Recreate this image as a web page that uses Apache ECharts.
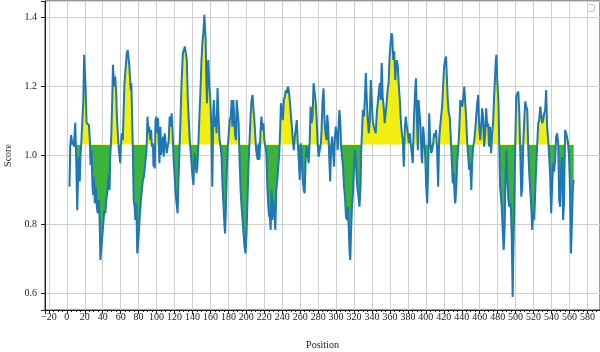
<!DOCTYPE html>
<html>
<head>
<meta charset="utf-8">
<script src="https://cdn.jsdelivr.net/npm/echarts@6/dist/echarts.min.js"></script>
<style>
  html, body { margin: 0; padding: 0; background: #fff; }
  #chart { width: 600px; height: 352px; }
</style>
</head>
<body>
<div id="chart"></div>
<script>
  // residue position along the sequence
  const positions = [
    3.0, 3.8, 4.8, 6.2, 7.0, 7.8, 9.4, 10.6, 11.6, 13.2,
    14.4, 15.2, 16.3, 17.2, 18.4, 19.3, 20.9, 22.0, 23.5, 24.6,
    25.7, 26.4, 27.5, 28.6, 29.4, 30.1, 31.2, 32.3, 33.4, 34.5,
    35.6, 36.3, 37.4, 39.3, 40.4, 41.8, 42.9, 44.0, 45.5, 46.6,
    47.7, 48.4, 49.5, 50.6, 51.4, 52.8, 53.9, 55.0, 55.8, 56.9,
    58.0, 59.5, 60.2, 61.3, 62.4, 64.2, 66.8, 67.9, 69.7,
    71.2, 71.9, 72.6, 73.4, 74.5, 75.6, 76.3, 77.4, 78.5, 79.3,
    80.4, 81.5, 82.6, 83.7, 84.8, 85.9, 87.4, 88.8, 89.9, 91.0,
    91.8, 92.9, 94.0, 94.7, 95.8, 96.6, 97.3, 98.0, 98.8, 99.9,
    101.0, 101.7, 102.4, 103.2, 104.3, 105.0, 106.1, 107.2, 108.0, 109.1,
    110.2, 111.3, 112.4, 113.5, 114.6, 115.7, 116.8, 117.9, 119.0, 120.1,
    121.2, 122.3, 123.4, 124.2, 125.3, 126.4, 127.8, 129.3, 130.4, 131.5,
    132.6, 133.7, 134.8, 135.9, 137.0, 138.1, 139.2, 140.0, 141.1, 142.2,
    143.3, 144.4, 145.5, 146.6, 147.7, 148.8, 149.9, 151.0, 152.1, 153.2,
    154.0, 154.7, 155.4, 156.2, 156.9, 157.6, 158.8, 159.9, 161.0, 162.1,
    163.2, 163.9, 165.0, 165.7, 166.8, 167.9, 169.0, 170.2, 171.3, 172.4,
    173.5, 174.6, 175.7,
    176.3, 177.1, 178.2, 179.3, 180.4, 181.5, 182.6, 183.7, 184.4, 185.5,
    186.6, 187.4, 188.5, 189.2, 190.3, 191.4, 192.5, 193.6, 194.7, 195.8,
    196.9, 198.0, 199.1, 200.2, 201.3, 202.4, 203.6, 204.7, 205.8, 206.9,
    208.0, 208.7, 209.8, 210.9, 212.0, 212.8, 213.9, 214.6, 215.7, 216.8,
    217.9, 219.0, 220.1, 221.2, 222.3, 223.4, 224.5, 225.3, 226.0, 227.1,
    228.2, 228.9, 230.0, 231.2, 232.3, 233.4, 234.5, 235.6, 236.7, 237.8,
    238.5, 239.6, 240.7, 241.8, 242.9, 244.0, 245.1, 246.2, 247.3, 248.4,
    249.5, 250.7, 251.8, 252.9, 254.0, 255.1, 256.2, 257.3, 258.4, 259.5,
    260.6, 261.7, 262.8, 263.9, 265.0, 266.1, 267.2, 268.3, 269.4, 270.5,
    271.6, 272.7, 273.8, 274.9, 276.0, 277.1, 278.2, 279.4, 280.5,
    283.1, 283.8, 284.9, 286.0, 287.1, 288.2, 289.3, 290.1, 291.2, 292.3,
    293.4, 294.5, 295.6, 296.7, 297.8, 298.5, 299.6, 300.7, 301.8, 302.9,
    303.7, 304.8, 305.5, 306.6, 307.7, 308.8, 309.9, 311.0, 312.1, 313.2,
    314.0, 315.1, 315.8, 316.6, 317.7, 318.8, 319.9, 321.0, 322.1, 322.8,
    323.9, 325.0, 326.1, 327.2, 328.0, 329.1, 329.8, 330.9, 332.0, 333.1,
    334.2, 335.3, 336.4, 337.5, 338.6, 339.7, 340.8, 342.0, 343.1, 344.2,
    345.3, 346.4, 347.5, 348.6, 349.7, 350.8, 351.9, 353.0, 354.1, 355.2,
    356.3, 357.4, 358.5, 359.6, 360.7, 361.8, 362.6, 363.7, 364.8, 365.9,
    366.6, 367.7, 368.8, 369.9, 371.0, 372.1, 373.2, 374.3, 375.4, 376.5,
    377.6, 378.8, 379.9, 381.0, 382.1, 383.2, 384.3, 385.4, 386.5, 387.6,
    388.9, 390.0, 391.1, 391.9, 393.0, 394.1, 395.2, 395.9, 397.0, 398.2,
    399.3, 400.4, 401.5, 402.6, 403.7, 404.8, 405.9, 407.0, 408.1, 409.2,
    410.3, 411.4, 412.5, 413.7, 414.8, 415.9, 417.0, 418.1, 419.2, 420.3,
    421.4, 422.5, 423.2, 424.4, 425.5, 426.6, 427.7, 428.8, 429.9, 431.0,
    432.1, 432.8, 433.9, 435.1, 436.2, 437.3, 438.4, 439.5, 440.6, 441.7,
    442.8, 443.9, 445.0, 446.1, 447.2, 448.3, 449.4, 450.6, 451.7, 452.8,
    453.9, 455.0, 456.1, 457.2, 458.3, 459.4, 460.5, 461.6, 462.7, 463.8,
    464.9, 466.1, 467.2, 468.3, 469.4, 470.5, 471.6, 472.7, 473.8, 474.9,
    476.0, 477.1, 477.9, 478.6, 479.7, 480.8, 481.9, 482.7, 483.8, 484.5,
    485.6, 486.7, 487.8, 488.6, 489.7, 490.8, 491.9, 493.0,
    494.5, 495.6, 496.7, 497.4, 498.5, 499.6, 500.7, 501.9, 503.0, 504.1,
    505.2, 506.3, 507.4, 508.5, 509.6, 510.7, 511.8, 513.0, 514.1, 515.2,
    516.3, 517.4, 518.5, 519.6, 520.7, 521.8, 522.9, 524.1, 525.2, 526.3,
    527.4, 528.5, 529.6, 530.7, 531.8, 532.9, 534.0, 535.1, 536.3, 537.4,
    538.5, 539.6, 540.7, 541.8, 542.9, 544.0, 545.1, 546.3, 547.4, 548.5,
    549.6, 550.7, 551.8, 552.9, 554.0, 555.1, 556.2, 557.3, 558.4, 559.5,
    560.3, 561.0, 561.7, 562.8, 563.9, 564.7
  ];

  // score at each position, same order as positions
  const scores = [
    0.908, 1.024, 1.058, 1.030, 1.040, 1.024, 1.093, 0.970, 0.840, 0.995,
    0.923, 0.995, 1.043, 1.048, 1.159, 1.290, 1.198, 1.093, 1.092, 1.087,
    1.043, 0.971, 1.014, 0.908, 0.884, 0.937, 0.860, 0.908, 0.850, 0.831,
    0.870, 0.841, 0.696, 0.696, 0.792, 0.841, 0.831, 0.870, 0.899, 0.947,
    0.899, 0.995, 1.053, 1.159, 1.261, 1.198, 1.227, 1.179, 1.111, 1.058,
    1.014, 0.976, 1.024, 1.063, 1.043, 1.208, 1.295, 1.304, 1.256,
    1.188, 1.208, 1.130, 1.034, 0.870, 0.850, 0.812, 0.860, 0.715, 0.734,
    0.783, 0.831, 0.870, 0.899, 0.928, 0.937, 0.976, 1.014, 1.111, 1.063,
    1.082, 1.043, 1.072, 1.024, 1.034, 0.966, 0.995, 0.961, 1.101, 1.111,
    1.063, 1.106, 1.034, 0.976, 1.082, 1.000, 1.024, 1.053, 0.995, 1.063,
    1.068, 1.005, 1.024, 1.043, 1.111, 1.082, 1.121, 1.063, 0.986, 0.937,
    0.889, 0.894, 0.831, 0.908, 0.995, 1.082, 1.208, 1.295, 1.300, 1.314,
    1.309, 1.275, 1.159, 1.101, 1.043, 1.005, 0.966, 0.937, 0.913, 1.005,
    0.986, 0.947, 0.966, 1.034, 1.111, 1.179, 1.266, 1.324, 1.353, 1.406,
    1.411, 1.333, 1.217, 1.150, 1.256, 1.275, 1.198, 1.159, 1.082, 0.908,
    1.130, 1.159, 1.082, 1.111, 1.063, 1.194, 1.111, 1.043, 1.024, 0.995,
    0.908, 0.850, 0.792,
    0.773, 0.831, 0.947, 1.024, 1.063, 1.101, 1.111, 1.159, 1.082, 1.159,
    1.101, 1.060, 1.043, 1.159, 1.159, 1.092, 0.986, 0.899, 0.850, 0.812,
    0.773, 0.734, 0.715, 0.773, 0.870, 0.966, 1.043, 1.111, 1.159, 1.174,
    1.130, 1.111, 1.063, 1.014, 0.995, 0.986, 1.034, 0.986, 1.063, 1.111,
    1.072, 1.092, 1.043, 1.024, 1.005, 0.908, 0.850, 0.821, 0.831, 0.783,
    0.899, 0.812, 0.870, 0.831, 0.783, 0.899, 0.928, 0.966, 1.005, 1.082,
    1.150, 1.130, 1.101, 1.159, 1.169, 1.188, 1.179, 1.198, 1.188, 1.159,
    1.121, 1.082, 1.043, 1.014, 1.053, 1.053, 1.101, 1.034, 0.986, 0.928,
    1.034, 0.986, 0.928, 0.899, 0.889, 0.986, 1.024, 1.005, 0.976, 1.034,
    1.140, 1.092, 1.111, 1.208, 1.208, 1.159, 1.111, 1.034, 0.995,
    1.034, 1.072, 1.159, 1.193, 1.101, 1.063, 1.043, 1.116, 1.082, 0.995,
    0.923, 1.024, 1.053, 1.005, 0.966, 1.043, 1.082, 1.063, 1.014, 1.092,
    1.130, 1.092, 1.024, 1.024, 0.966, 0.908, 0.879, 0.821, 0.812, 0.850,
    0.792, 0.715, 0.696, 0.773, 0.850, 0.889, 0.966, 1.014, 0.976, 0.937,
    0.899, 0.879, 0.850, 0.908, 1.014, 1.082, 1.130, 1.111, 1.159, 1.237,
    1.159, 1.101, 1.063, 1.101, 1.217, 1.159, 1.101, 1.082, 1.082, 1.063,
    1.121, 1.150, 1.179, 1.208, 1.159, 1.266, 1.169, 1.140, 1.092, 1.121,
    1.150, 1.188, 1.208, 1.285, 1.324, 1.353, 1.343, 1.275, 1.300, 1.217,
    1.246, 1.275, 1.256, 1.198, 1.159, 1.101, 1.063, 1.043, 0.966, 1.072,
    1.111, 1.082, 1.063, 1.034, 1.063, 1.034, 1.005, 0.976, 1.082, 1.159,
    1.222, 1.111, 1.014, 1.159, 1.164, 1.082, 0.995, 0.976, 1.082, 1.043,
    0.995, 0.908, 0.860, 0.966, 1.121, 1.043, 1.005, 1.014, 1.034, 1.063,
    1.053, 1.072, 1.014, 0.908, 1.043, 1.082, 1.087, 1.140, 1.198, 1.256,
    1.275, 1.285, 1.237, 1.159, 1.121, 1.111, 1.053, 0.986, 0.918, 0.947,
    0.879, 0.860, 0.908, 0.986, 1.024, 1.082, 1.159, 1.164, 1.140, 1.169,
    1.198, 1.150, 1.101, 1.034, 0.995, 0.957, 0.976, 0.899, 0.986, 1.024,
    1.043, 1.072, 1.111, 1.150, 1.174, 1.082, 1.043, 1.082, 1.135, 1.111,
    1.024, 1.063, 1.135, 1.082, 1.092, 1.024, 1.082, 1.005, 1.063, 1.092,
    1.169, 1.227, 1.275, 1.290, 1.208, 1.159, 1.014, 0.908, 0.908, 0.850,
    0.783, 0.725, 0.792, 0.928, 1.014, 0.928, 0.870, 0.850,
    0.860, 0.773, 0.589, 0.715, 0.850, 1.034, 1.169, 1.169, 1.184, 1.121,
    1.005, 0.879, 0.908, 1.034, 1.101, 1.155, 1.140, 1.130, 1.014, 0.947,
    0.899, 0.850, 0.783, 0.831, 0.812, 0.889, 0.966, 1.034, 1.092, 1.101,
    1.140, 1.145, 1.092, 1.101, 1.121, 1.130, 1.188, 1.082, 1.043, 0.995,
    0.937, 0.831, 0.908, 0.976, 0.952, 0.986, 1.053, 1.063, 1.034, 0.870,
    0.850, 0.966, 0.995, 0.812, 0.870, 1.072, 1.063, 1.053, 1.034, 0.995,
    0.928, 0.821, 0.715, 0.812, 0.908, 0.928
  ];

  // fill is yellow above this line, green below
  const threshold = 1.03;

  const serif = '"Liberation Serif", "DejaVu Serif", serif';
  const points = positions.map(function (p, i) { return [p, scores[i]]; });

  function xLabel(v) {
    if (Math.abs(v % 20) > 1e-6) return '';
    return v < 0 ? '\u2212' + Math.abs(v) : String(v);
  }
  function yLabel(v) {
    var k = Math.round(v * 10);
    if (Math.abs(v * 10 - k) > 1e-6 || k % 2 !== 0) return '';
    return v.toFixed(1);
  }

  var chart = echarts.init(document.getElementById('chart'), null, { renderer: 'canvas' });
  chart.setOption({
    animation: false,
    backgroundColor: '#fff',
    grid: {
      left: 45, right: 0, top: 1, bottom: 42,
      outerBoundsMode: 'none', containLabel: false,
      show: true, borderColor: '#333', borderWidth: 1, backgroundColor: 'transparent'
    },
    xAxis: {
      type: 'value',
      min: -24.3, max: 594,
      splitNumber: 31, minInterval: 20, maxInterval: 20,
      name: 'Position', nameLocation: 'middle', nameGap: 30,
      nameTextStyle: { fontFamily: serif, fontSize: 10, color: '#222' },
      axisLine: { show: true, onZero: false, lineStyle: { color: '#222', width: 1 } },
      axisTick: { show: true, length: 4, lineStyle: { color: '#222' } },
      minorTick: { show: true, splitNumber: 4, length: 2, lineStyle: { color: '#222' } },
      axisLabel: { fontFamily: serif, fontSize: 10, color: '#222', margin: 2, formatter: xLabel },
      splitLine: { show: true, lineStyle: { color: '#cfcfcf', width: 1 } }
    },
    yAxis: {
      type: 'value',
      min: 0.551, max: 1.446,
      splitNumber: 4, minInterval: 0.2, maxInterval: 0.2,
      name: 'Score', nameLocation: 'middle', nameGap: 30,
      nameTextStyle: { fontFamily: serif, fontSize: 10, color: '#222' },
      axisLine: { show: true, onZero: false, lineStyle: { color: '#222', width: 1 } },
      axisTick: { show: true, length: 4, lineStyle: { color: '#222' } },
      axisLabel: { fontFamily: serif, fontSize: 10, color: '#222', margin: 8, formatter: yLabel },
      splitLine: { show: true, lineStyle: { color: '#cfcfcf', width: 1 } }
    },
    visualMap: {
      show: false,
      type: 'piecewise',
      seriesIndex: 0,
      dimension: 1,
      pieces: [
        { gte: 0, lt: threshold, color: '#3cb43c' },
        { gte: threshold, lte: 2, color: '#f2ee12' }
      ]
    },
    series: [
      {
        name: 'fill',
        type: 'line',
        data: points,
        showSymbol: false,
        silent: true,
        lineStyle: { width: 0, opacity: 0 },
        areaStyle: { origin: threshold, opacity: 1 },
        z: 2
      },
      {
        name: 'score',
        type: 'line',
        data: points,
        showSymbol: false,
        silent: true,
        lineStyle: { color: '#1f77b4', width: 2 },
        itemStyle: { color: '#1f77b4' },
        z: 3
      }
    ],
    graphic: [
      {
        type: 'rect',
        right: 5, top: 4,
        shape: { width: 7, height: 7, r: 1.5 },
        style: { fill: '#fff', stroke: '#c8c8c8', lineWidth: 1 }
      }
    ]
  });
</script>
</body>
</html>
